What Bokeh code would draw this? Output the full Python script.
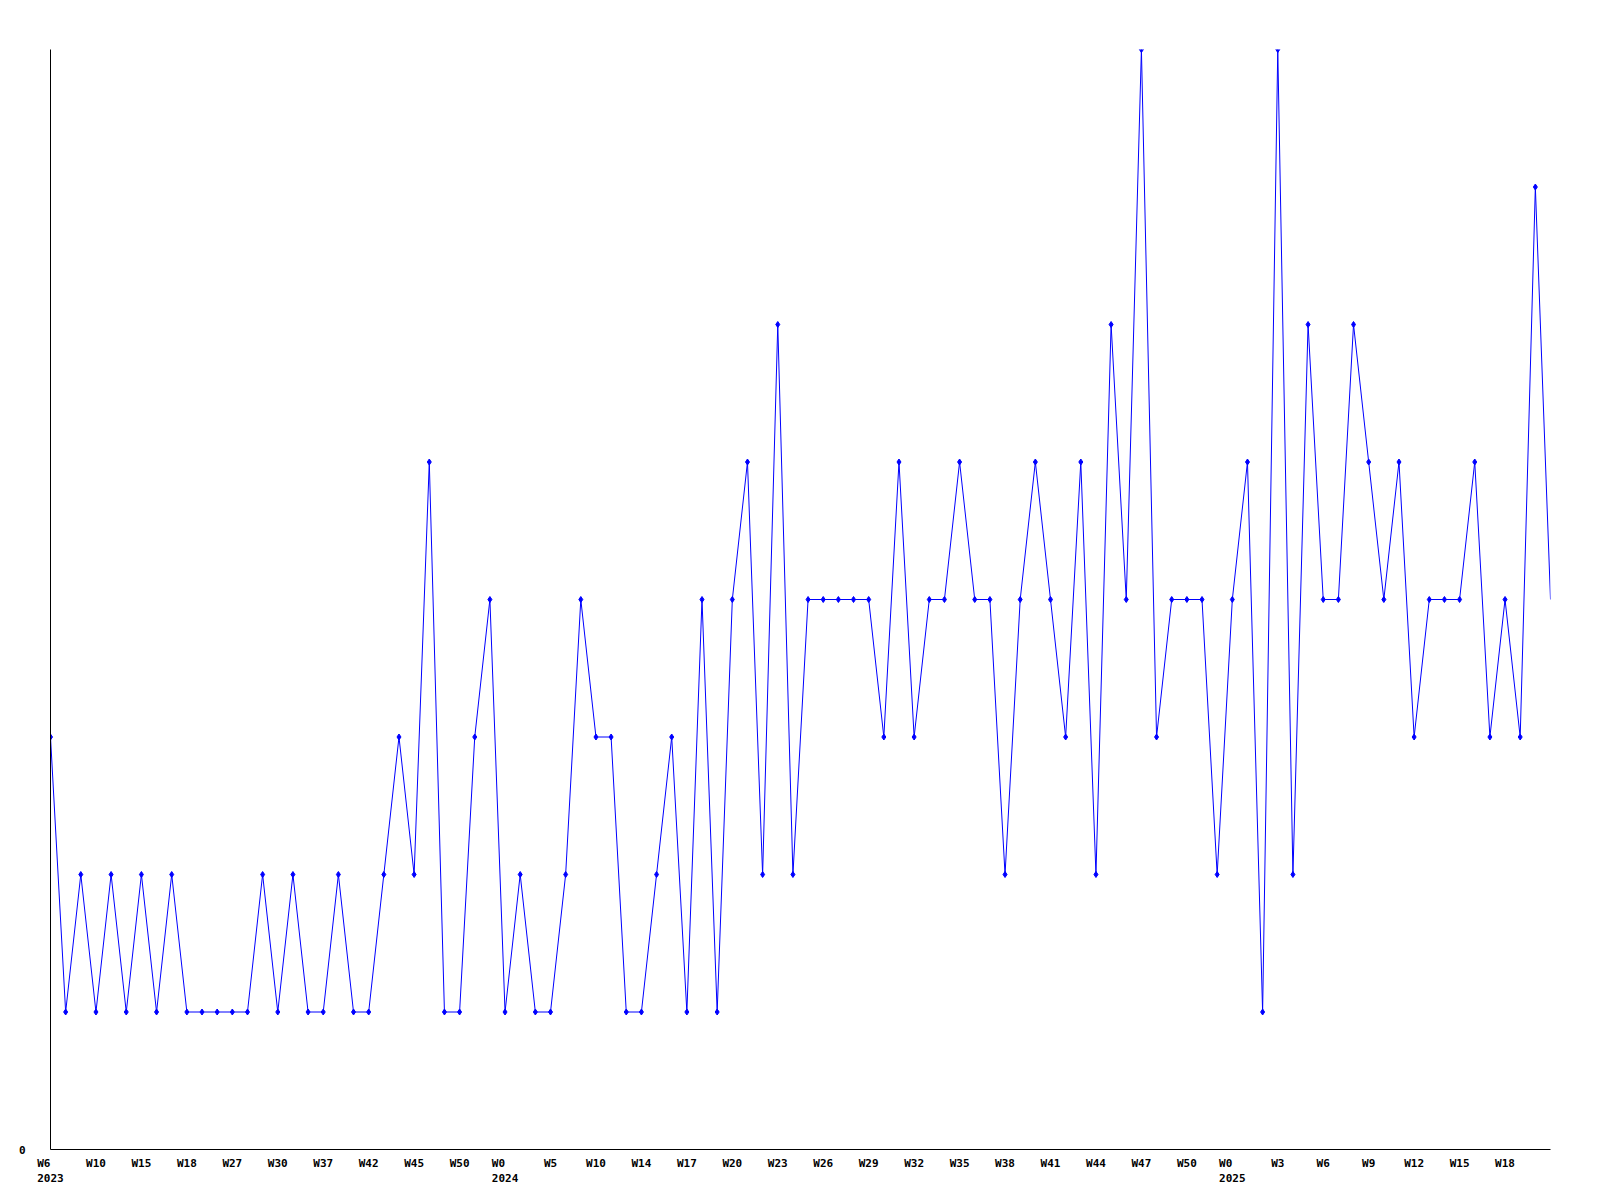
from bokeh.plotting import figure
from bokeh.models import Range1d, FixedTicker
from bokeh.embed import file_html
from bokeh.resources import INLINE

# Weekly counts (one value per point)
values = [3, 1, 2, 1, 2, 1, 2, 1, 2, 1,
          1, 1, 1, 1, 2, 1, 2, 1, 1, 2,
          1, 1, 2, 3, 2, 5, 1, 1, 3, 4,
          1, 2, 1, 1, 2, 4, 3, 3, 1, 1,
          2, 3, 1, 4, 1, 4, 5, 2, 6, 2,
          4, 4, 4, 4, 4, 3, 5, 3, 4, 4,
          5, 4, 4, 2, 4, 5, 4, 3, 5, 2,
          6, 4, 8, 3, 4, 4, 4, 2, 4, 5,
          1, 8, 2, 6, 4, 4, 6, 5, 4, 5,
          3, 4, 4, 4, 5, 3, 4, 3, 7, 4]

# Tick labels shown every third point
tick_weeks = ["W6", "W10", "W15", "W18", "W27", "W30", "W37", "W42", "W45", "W50",
              "W0", "W5", "W10", "W14", "W17", "W20", "W23", "W26", "W29", "W32",
              "W35", "W38", "W41", "W44", "W47", "W50",
              "W0", "W3", "W6", "W9", "W12", "W15", "W18"]
tick_years = {0: "2023", 10: "2024", 26: "2025"}

xs = list(range(len(values)))
tick_pos = list(range(0, len(values), 3))[:len(tick_weeks)]

NBSP = "\u00a0"
overrides = {}
for k, (pos, wk) in enumerate(zip(tick_pos, tick_weeks)):
    if k in tick_years:
        yr = tick_years[k]
        pad = NBSP * max(0, len(yr) - len(wk))
        overrides[pos] = wk + pad + "\n" + yr
    else:
        overrides[pos] = wk

p = figure(width=1592, height=1192, output_backend="svg", toolbar_location=None,
           x_range=Range1d(0, len(values) - 1), y_range=Range1d(0, 8),
           min_border_left=50, min_border_right=42, min_border_top=49, min_border_bottom=43)

p.line(xs, values, line_color="#0000ff", line_width=1)
p.scatter(xs[:-1], values[:-1], marker="diamond", size=6, color="#0000ff")

p.grid.visible = False
p.outline_line_color = None

font = "DejaVu Sans Mono"
for ax in (p.xaxis[0], p.yaxis[0]):
    ax.major_tick_line_color = None
    ax.minor_tick_line_color = None
    ax.axis_line_color = "black"
    ax.axis_line_width = 1
    ax.major_label_text_font = font
    ax.major_label_text_font_style = "bold"
    ax.major_label_text_font_size = "11px"
    ax.major_label_text_color = "black"

p.xaxis.ticker = FixedTicker(ticks=tick_pos)
p.xaxis.major_label_overrides = overrides
p.xaxis.major_label_standoff = 1
p.yaxis.ticker = FixedTicker(ticks=[0])
p.yaxis.major_label_standoff = 19

open("out.html", "w").write(file_html(p, INLINE))
